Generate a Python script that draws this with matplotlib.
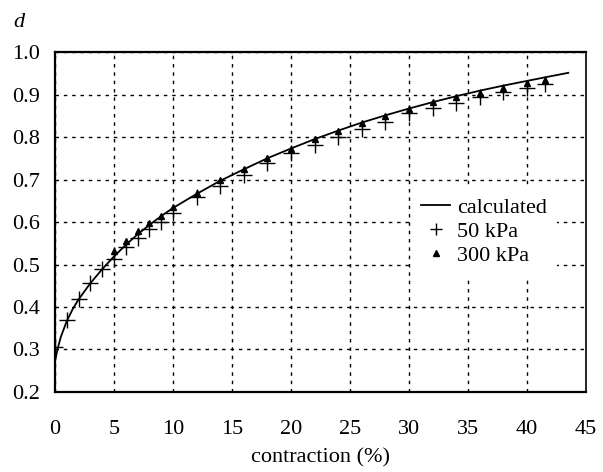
import numpy as np
from matplotlib import pyplot as plt
from matplotlib.ticker import MultipleLocator, FuncFormatter

plt.rcParams['font.family'] = ['Liberation Serif', 'DejaVu Serif']

# calculated curve
calc_x = [0, 0.25, 0.5, 1, 1.5, 2, 3, 4, 5, 6, 7, 8, 9, 10, 12, 14, 16, 18, 20,
          22, 24, 26, 28, 30, 32, 34, 36, 38, 40, 42, 43.5]
calc_y = [0.272, 0.305, 0.33, 0.367, 0.395, 0.418, 0.456, 0.489, 0.519, 0.546,
          0.571, 0.593, 0.614, 0.633, 0.666, 0.697, 0.724, 0.750, 0.773,
          0.795, 0.815, 0.834, 0.851, 0.867, 0.882, 0.896, 0.909, 0.921,
          0.932, 0.943, 0.951]

# 50 kPa measurements
p50_x = [0, 1, 2, 3, 4, 5, 6, 7, 8, 9, 10, 12, 14, 16, 18, 20, 22, 24, 26,
         28, 30, 32, 34, 36, 38, 40, 41.5]
p50_y = [0.306, 0.369, 0.419, 0.457, 0.489, 0.513, 0.541, 0.562, 0.583, 0.600,
         0.622, 0.659, 0.685, 0.711, 0.739, 0.762, 0.782, 0.800, 0.819,
         0.835, 0.856, 0.868, 0.881, 0.893, 0.906, 0.915, 0.925]

# 300 kPa measurements
p300_x = [5, 6, 7, 8, 9, 10, 12, 14, 16, 18, 20, 22, 24, 26, 28, 30, 32, 34,
          36, 38, 40, 41.5]
p300_y = [0.531, 0.555, 0.578, 0.597, 0.614, 0.635, 0.668, 0.699, 0.725,
          0.751, 0.772, 0.795, 0.814, 0.833, 0.849, 0.866, 0.882, 0.893,
          0.904, 0.915, 0.927, 0.934]

fig = plt.figure(figsize=(6.03, 4.72), dpi=100)
ax = fig.add_axes([0.0912, 0.1695, 0.8806, 0.7203])

ax.plot(calc_x, calc_y, color='black', lw=1.3, label='calculated', zorder=3)
ax.plot(p50_x, p50_y, ls='none', marker='+', ms=11, mew=1.0, color='black',
        label='50 kPa', zorder=4)
ax.plot(p300_x, p300_y, ls='none', marker='^', ms=5, color='black',
        label='300 kPa', zorder=4)

ax.set_xlim(0, 45)
ax.set_ylim(0.2, 1.0)
ax.xaxis.set_major_locator(MultipleLocator(5))
ax.yaxis.set_major_locator(MultipleLocator(0.1))
ax.yaxis.set_major_formatter(FuncFormatter(lambda v, _: f"{v:.1f}"))
ax.tick_params(length=0, labelsize=16)
ax.tick_params(axis='x', pad=20)
ax.tick_params(axis='y', pad=11)

ax.grid(True, color='black', lw=1.0, ls=(0, (2.5, 3.5)))
ax.set_axisbelow(True)
for side in ['left', 'bottom', 'top']:
    ax.spines[side].set_linewidth(1.6)
ax.spines['right'].set_linewidth(1.2)

ax.set_xlabel('contraction (%)', fontsize=16, labelpad=7)
fig.text(0.032, 0.952, 'd', fontsize=16, style='italic', ha='center', va='center')

# white legend box that hides the grid behind it
leg = ax.legend(loc='upper left', bbox_to_anchor=(0.671, 0.601), frameon=True,
                facecolor='white', edgecolor='none', framealpha=1,
                fancybox=False, borderpad=0.45,
                fontsize=16, handlelength=1.3, handletextpad=0.3,
                labelspacing=0.15, borderaxespad=0)
leg.legend_handles[1].set_markersize(8)

fig.savefig('out.png', dpi=100)
